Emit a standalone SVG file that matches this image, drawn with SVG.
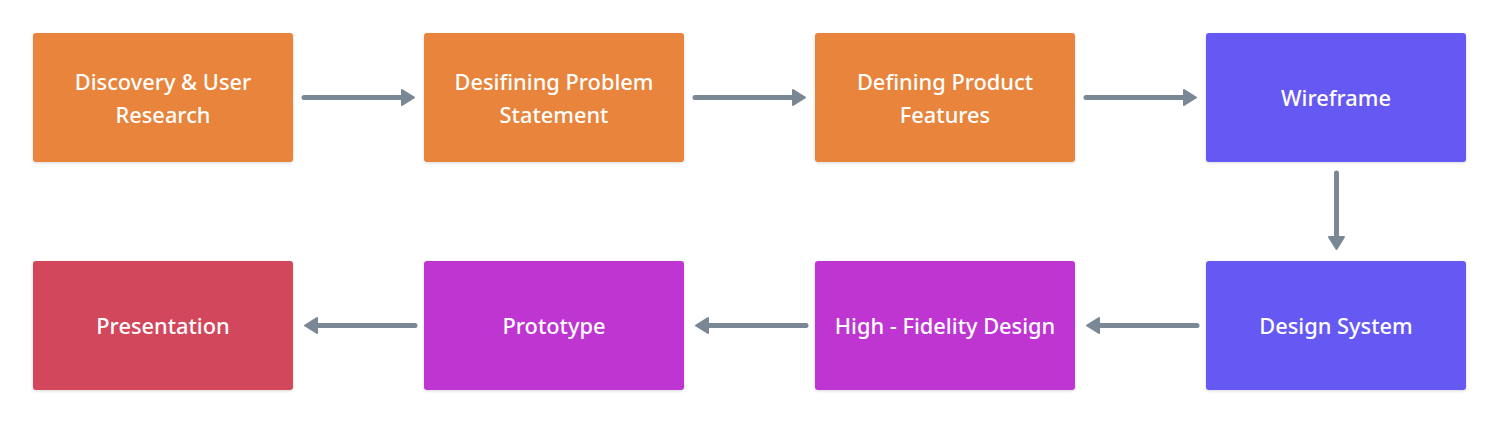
<svg xmlns="http://www.w3.org/2000/svg" width="1500" height="423" viewBox="0 0 1500 423">
<style>
.n text{font-family:"Noto Sans","DejaVu Sans",sans-serif;font-size:21.8px;font-weight:500;fill:#fff;text-anchor:middle;dominant-baseline:central}
.n rect{filter:url(#sh)}
.o rect{fill:#E8843A}
.b rect{fill:#6659F3}
.m rect{fill:#BF36D2}
.r rect{fill:#D2465B}
.c path{stroke:#7A8795;stroke-width:5;stroke-linecap:round;fill:none}
.c polygon{fill:#7A8795;stroke:#7A8795;stroke-width:2;stroke-linejoin:round}
</style>
<defs>
<filter id="sh" x="-10%" y="-10%" width="120%" height="130%">
<feDropShadow dx="0" dy="1" stdDeviation="1.5" flood-color="#000" flood-opacity="0.15"/>
</filter>
</defs>
<g id="discovery" class="n o"><rect x="33" y="33" width="260" height="129" rx="3"/><text x="163" y="81">Discovery &amp; User</text><text x="163" y="114">Research</text></g>
<g id="problem" class="n o"><rect x="424" y="33" width="260" height="129" rx="3"/><text x="554" y="81">Desifining Problem</text><text x="554" y="114">Statement</text></g>
<g id="features" class="n o"><rect x="815" y="33" width="260" height="129" rx="3"/><text x="945" y="81">Defining Product</text><text x="945" y="114">Features</text></g>
<g id="wireframe" class="n b"><rect x="1206" y="33" width="260" height="129" rx="3"/><text x="1336" y="97.5">Wireframe</text></g>
<g id="designsystem" class="n b"><rect x="1206" y="261" width="260" height="129" rx="3"/><text x="1336" y="325.5">Design System</text></g>
<g id="hifi" class="n m"><rect x="815" y="261" width="260" height="129" rx="3"/><text x="945" y="325.5">High - Fidelity Design</text></g>
<g id="prototype" class="n m"><rect x="424" y="261" width="260" height="129" rx="3"/><text x="554" y="325.5">Prototype</text></g>
<g id="presentation" class="n r"><rect x="33" y="261" width="260" height="129" rx="3"/><text x="163" y="325.5">Presentation</text></g>
<g id="connectors" class="c">
<path d="M304,97.5 H404"/><polygon points="402,90 414,97.5 402,105"/>
<path d="M695,97.5 H795"/><polygon points="793,90 805,97.5 793,105"/>
<path d="M1086,97.5 H1186"/><polygon points="1184,90 1196,97.5 1184,105"/>
<path d="M1336.5,173 V238"/><polygon points="1329,237 1336.5,249 1344,237"/>
<path d="M1197,325.5 H1097"/><polygon points="1099,318 1087,325.5 1099,333"/>
<path d="M806,325.5 H706"/><polygon points="708,318 696,325.5 708,333"/>
<path d="M415,325.5 H315"/><polygon points="317,318 305,325.5 317,333"/>
</g>
</svg>
